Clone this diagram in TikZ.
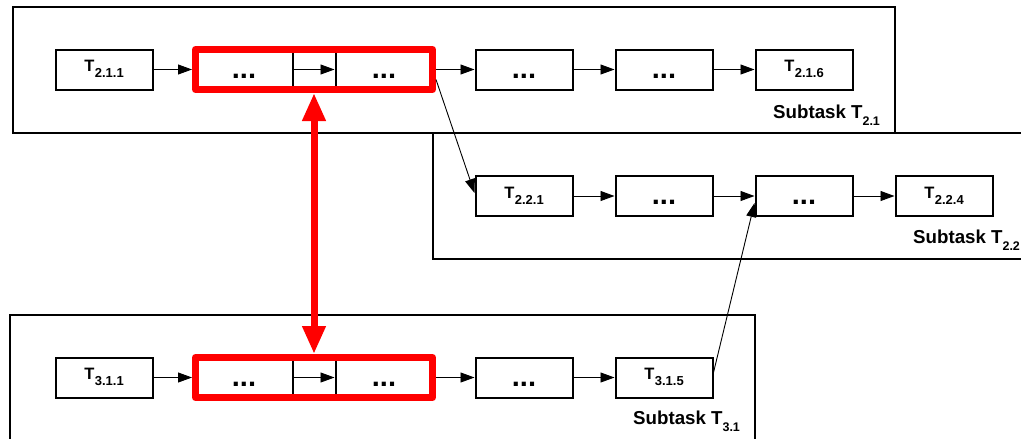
\documentclass[tikz,border=0pt]{standalone}
\usepackage{fontspec}
\setmainfont{Liberation Sans}
\usetikzlibrary{arrows.meta,fit}
% subscripts of task names and of subtask captions
\newcommand{\tsub}[1]{\kern0.5pt\raisebox{-6pt}{\fontsize{13}{13}\selectfont #1}}
\newcommand{\lsub}[1]{\raisebox{-7pt}{\fontsize{12.5}{12.5}\selectfont #1}}
\begin{document}
\begin{tikzpicture}[x=1pt,y=-1pt,
  subframe/.style={draw, line width=2pt},
  taskbox/.style={draw, line width=2pt, minimum width=97pt, minimum height=40pt, inner sep=0pt},
  tname/.style={taskbox, font=\fontsize{16.5}{16.5}\selectfont\bfseries, text height=10pt, text depth=6pt},
  tdots/.style={taskbox, font=\fontsize{29}{29}\selectfont\bfseries, text height=17pt, text depth=0pt},
  seq/.style={line width=0.9pt, -{Triangle[length=14pt,width=10pt]}},
  redgroup/.style={draw=red, line width=7pt, line join=round, inner sep=-1pt},
  redlink/.style={draw=red, line width=7pt, {Triangle[length=28pt,width=22pt]}-{Triangle[length=28pt,width=22pt]}},
  subcaption/.style={anchor=base west, inner sep=0pt, font=\fontsize{18.7}{18.7}\selectfont\bfseries}]

\useasboundingbox (0,0) rectangle (1021,439);
\clip (0,0) rectangle (1021,439);

% subtask frames
\draw[subframe] (13,7) rectangle (895,133);
\draw[subframe] (433,133) rectangle (1040,258.5);
\draw[subframe] (10,315) rectangle (755,445);

% subtask T2.1
\node[tname] (a1) at (104,69.5) {T\tsub{2.1.1}};
\node[tdots] (a2) at (244,69.5) {...};
\node[tdots] (a3) at (384,69.5) {...};
\node[tdots] (a4) at (524,69.5) {...};
\node[tdots] (a5) at (664,69.5) {...};
\node[tname] (a6) at (804,69.5) {T\tsub{2.1.6}};

% subtask T2.2
\node[tname] (b1) at (524,196) {T\tsub{2.2.1}};
\node[tdots] (b2) at (664,196) {...};
\node[tdots] (b3) at (804,196) {...};
\node[tname] (b4) at (944,196) {T\tsub{2.2.4}};

% subtask T3.1
\node[tname] (c1) at (104,377.5) {T\tsub{3.1.1}};
\node[tdots] (c2) at (244,377.5) {...};
\node[tdots] (c3) at (384,377.5) {...};
\node[tdots] (c4) at (524,377.5) {...};
\node[tname] (c5) at (664,377.5) {T\tsub{3.1.5}};

% captions
\node[subcaption] (l21) at (773,118) {Subtask T\lsub{2.1}};
\node[subcaption] (l22) at (913,243) {Subtask T\lsub{2.2}};
\node[subcaption] (l31) at (633,424) {Subtask T\lsub{3.1}};

% highlighted groups
\node[redgroup, fit=(a2)(a3)] (r1) {};
\node[redgroup, fit=(c2)(c3)] (r3) {};

% sequences
\draw[seq] (a1) -- (r1);
\draw[seq] (a2) -- (a3);
\draw[seq] (r1.east) -- (a4);
\draw[seq] (a4) -- (a5);
\draw[seq] (a5) -- (a6);

\draw[seq] (b1) -- (b2);
\draw[seq] (b2) -- (b3);
\draw[seq] (b3) -- (b4);

\draw[seq] (c1) -- (r3);
\draw[seq] (c2) -- (c3);
\draw[seq] (r3.east) -- (c4);
\draw[seq] (c4) -- (c5);

% links between subtasks
\draw[seq] ([yshift=-10pt]r1.east) -- ([yshift=3pt]b1.west);
\draw[seq] ([yshift=5pt]c5.east) -- ([yshift=-7pt]b3.west);

% correspondence of the highlighted groups
\draw[redlink] (r1.south -| 314,0) -- (r3.north -| 314,0);
\end{tikzpicture}
\end{document}
